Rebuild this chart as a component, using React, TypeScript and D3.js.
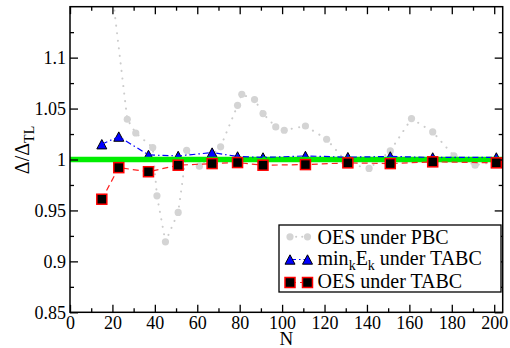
import { useEffect, useRef } from 'react';
import * as d3 from 'd3';

// N values of the TABC runs and the two TABC curves
const nTabc = [15, 23, 37, 51, 67, 79, 91, 111, 131, 151, 171, 201];
const minEkTabc = [1.015, 1.0225, 1.0045, 1.0035, 1.0068, 1.003, 1.002, 1.0035, 1.0023, 1.003, 1.002, 1.002];
const oesTabc = [0.961, 0.992, 0.988, 0.9944, 0.996, 0.997, 0.9944, 0.995, 0.9967, 0.996, 0.9977, 0.9967];

// PBC curve (first point lies above the frame)
const nPbc = [15, 27, 31, 39, 41, 45, 51, 55, 61, 71, 79, 81, 87, 91, 97, 101, 111, 121, 131, 141, 151, 161, 171, 181, 191, 201];
const oesPbc = [1.25, 1.0395, 1.026, 1.0118, 0.9643, 0.9192, 0.948, 1.0091, 0.9934, 1.0124, 1.0532, 1.064, 1.0588, 1.0451, 1.032, 1.0287, 1.0329, 1.0199, 0.996, 0.9912, 1.0084, 1.0402, 1.0271, 1.0035, 0.9944, 0.998];

const xMajorTicks = [0, 20, 40, 60, 80, 100, 120, 140, 160, 180, 200];
const xMinorTicks = [10, 30, 50, 70, 90, 110, 130, 150, 170, 190];
const yMajorTicks = [0.85, 0.9, 0.95, 1, 1.05, 1.1];
const yMinorTicks = [0.875, 0.925, 0.975, 1.025, 1.075, 1.125];
const yTickLabels = ['0.85', '0.9', '0.95', '1', '1.05', '1.1'];

const FONT = 'Liberation Serif, Times New Roman, serif';

export default function App() {
  const svgRef = useRef<SVGSVGElement>(null);

  useEffect(() => {
    if (!svgRef.current) return;
    const svg = d3.select(svgRef.current);
    svg.selectAll('*').remove();

    const left = 70, right = 502.7, top = 6.7, bottom = 312.3;
    const x = d3.scaleLinear().domain([0, 204]).range([left, right]);
    const y = d3.scaleLinear().domain([0.85, 1.15]).range([bottom, top]);

    svg.append('defs').append('clipPath').attr('id', 'plotclip')
      .append('rect')
      .attr('x', left).attr('y', top)
      .attr('width', right - left).attr('height', bottom - top);

    const plot = svg.append('g').attr('clip-path', 'url(#plotclip)');

    // OES under PBC: grey dotted line + circles
    const pbc = nPbc.map((n, i) => [n, oesPbc[i]] as [number, number]);
    const line = d3.line<[number, number]>().x((d) => x(d[0])).y((d) => y(d[1]));
    plot.append('path')
      .attr('d', line(pbc))
      .attr('fill', 'none')
      .attr('stroke', '#cccccc')
      .attr('stroke-width', 2)
      .attr('stroke-linecap', 'round')
      .attr('stroke-dasharray', '0.1,7.5');
    plot.selectAll('.pbc')
      .data(pbc)
      .enter()
      .append('circle')
      .attr('cx', (d) => x(d[0]))
      .attr('cy', (d) => y(d[1]))
      .attr('r', 3.6)
      .attr('fill', '#d4d4d4');

    // triangles (min_k E_k under TABC)
    const tri = nTabc.map((n, i) => [n, minEkTabc[i]] as [number, number]);
    const triPath = (cx: number, cy: number) =>
      `M${cx},${cy - 4.7}L${cx + 5},${cy + 4.7}L${cx - 5},${cy + 4.7}Z`;
    plot.selectAll('.tri')
      .data(tri)
      .enter()
      .append('path')
      .attr('d', (d) => triPath(x(d[0]), y(d[1])))
      .attr('fill', '#0000ff')
      .attr('stroke', '#000')
      .attr('stroke-width', 1);

    // reference line at 1
    plot.append('line')
      .attr('x1', left).attr('x2', right)
      .attr('y1', y(1)).attr('y2', y(1))
      .attr('stroke', '#00ee00')
      .attr('stroke-width', 5.5);

    plot.append('path')
      .attr('d', line(tri))
      .attr('fill', 'none')
      .attr('stroke', '#0000ff')
      .attr('stroke-width', 1.2)
      .attr('stroke-dasharray', '6,3,1.5,3');

    // squares (OES under TABC)
    const sq = nTabc.map((n, i) => [n, oesTabc[i]] as [number, number]);
    plot.append('path')
      .attr('d', line(sq))
      .attr('fill', 'none')
      .attr('stroke', '#ff2020')
      .attr('stroke-width', 1.2)
      .attr('stroke-dasharray', '6,4');
    plot.selectAll('.sq')
      .data(sq)
      .enter()
      .append('rect')
      .attr('x', (d) => x(d[0]) - 5)
      .attr('y', (d) => y(d[1]) - 5)
      .attr('width', 10)
      .attr('height', 10)
      .attr('fill', '#000')
      .attr('stroke', '#ff0000')
      .attr('stroke-width', 1.5);

    // axes, ticks pointing inward
    const styleAxis = (g: d3.Selection<SVGGElement, unknown, null, undefined>) => {
      g.attr('font-family', FONT).attr('font-size', 18);
      g.select('.domain').remove();
      g.selectAll('line').attr('stroke', '#000').attr('stroke-width', 1.3);
      g.selectAll('text')
        .attr('fill', '#000')
        .attr('font-family', FONT)
        .attr('font-size', 18);
    };

    svg.append('g')
      .attr('transform', `translate(0,${bottom})`)
      .call(d3.axisBottom(x).tickValues(xMajorTicks).tickSize(-7.5).tickPadding(3.5).tickFormat(d3.format('d')))
      .call(styleAxis);
    svg.append('g')
      .attr('transform', `translate(0,${bottom})`)
      .call(d3.axisBottom(x).tickValues(xMinorTicks).tickSize(-4).tickFormat(() => ''))
      .call(styleAxis);
    svg.append('g')
      .attr('transform', `translate(0,${top})`)
      .call(d3.axisTop(x).tickValues(xMajorTicks).tickSize(-7.5).tickFormat(() => ''))
      .call(styleAxis);
    svg.append('g')
      .attr('transform', `translate(0,${top})`)
      .call(d3.axisTop(x).tickValues(xMinorTicks).tickSize(-4).tickFormat(() => ''))
      .call(styleAxis);

    svg.append('g')
      .attr('transform', `translate(${left},0)`)
      .call(d3.axisLeft(y).tickValues(yMajorTicks).tickSize(-8).tickPadding(4)
        .tickFormat((d, i) => yTickLabels[i]))
      .call(styleAxis);
    svg.append('g')
      .attr('transform', `translate(${left},0)`)
      .call(d3.axisLeft(y).tickValues(yMinorTicks).tickSize(-4).tickFormat(() => ''))
      .call(styleAxis);
    svg.append('g')
      .attr('transform', `translate(${right},0)`)
      .call(d3.axisRight(y).tickValues(yMajorTicks).tickSize(-8).tickFormat(() => ''))
      .call(styleAxis);
    svg.append('g')
      .attr('transform', `translate(${right},0)`)
      .call(d3.axisRight(y).tickValues(yMinorTicks).tickSize(-4).tickFormat(() => ''))
      .call(styleAxis);

    svg.append('rect')
      .attr('x', left).attr('y', top)
      .attr('width', right - left).attr('height', bottom - top)
      .attr('fill', 'none')
      .attr('stroke', '#000')
      .attr('stroke-width', 1.5);

    // axis titles
    svg.append('text')
      .attr('x', (left + right) / 2)
      .attr('y', 345)
      .attr('text-anchor', 'middle')
      .attr('font-family', FONT)
      .attr('font-size', 19)
      .text('N');

    const yl = svg.append('text')
      .attr('transform', 'translate(29,150) rotate(-90)')
      .attr('text-anchor', 'middle')
      .attr('font-family', FONT)
      .attr('font-size', 20);
    yl.append('tspan').text('Δ/Δ');
    yl.append('tspan').attr('dy', 5).attr('font-size', 14).text('TL');

    // legend
    const lg = svg.append('g');
    lg.append('rect')
      .attr('x', 279).attr('y', 225)
      .attr('width', 222).attr('height', 67)
      .attr('fill', '#fff')
      .attr('stroke', '#000')
      .attr('stroke-width', 1.3);

    const lx1 = 290, lx2 = 307.5, tx = 317.5;
    const rows = [236.8, 259.5, 282.5];

    lg.append('line').attr('x1', lx1).attr('x2', lx2).attr('y1', rows[0]).attr('y2', rows[0])
      .attr('stroke', '#cccccc').attr('stroke-width', 2).attr('stroke-dasharray', '0.1,6').attr('stroke-linecap', 'round');
    [lx1, lx2].forEach((cx) => lg.append('circle').attr('cx', cx).attr('cy', rows[0]).attr('r', 3.6).attr('fill', '#d4d4d4'));

    lg.append('line').attr('x1', lx1).attr('x2', lx2).attr('y1', rows[1]).attr('y2', rows[1])
      .attr('stroke', '#0000ff').attr('stroke-width', 1.2).attr('stroke-dasharray', '6,3,1.5,3');
    [lx1, lx2].forEach((cx) => lg.append('path').attr('d', triPath(cx, rows[1])).attr('fill', '#0000ff').attr('stroke', '#000').attr('stroke-width', 1));

    lg.append('line').attr('x1', lx1).attr('x2', lx2).attr('y1', rows[2]).attr('y2', rows[2])
      .attr('stroke', '#ff2020').attr('stroke-width', 1.2).attr('stroke-dasharray', '6,4');
    [lx1, lx2].forEach((cx) => lg.append('rect').attr('x', cx - 5).attr('y', rows[2] - 5).attr('width', 10).attr('height', 10)
      .attr('fill', '#000').attr('stroke', '#ff0000').attr('stroke-width', 1.5));

    const legendText = (yy: number) => lg.append('text')
      .attr('x', tx).attr('y', yy)
      .attr('font-family', FONT)
      .attr('font-size', 20);
    legendText(243.5).text('OES under PBC');
    const t2 = legendText(265);
    t2.append('tspan').text('min');
    t2.append('tspan').attr('dy', 5).attr('font-size', 14).text('k');
    t2.append('tspan').attr('dy', -5).text('E');
    t2.append('tspan').attr('dy', 5).attr('font-size', 14).text('k');
    t2.append('tspan').attr('dy', -5).text(' under TABC');
    legendText(288).text('OES under TABC');
  }, []);

  return (
    <svg
      ref={svgRef}
      width={510}
      height={348}
      style={{ position: 'absolute', left: 0, top: 0, background: '#fff' }}
    />
  );
}
